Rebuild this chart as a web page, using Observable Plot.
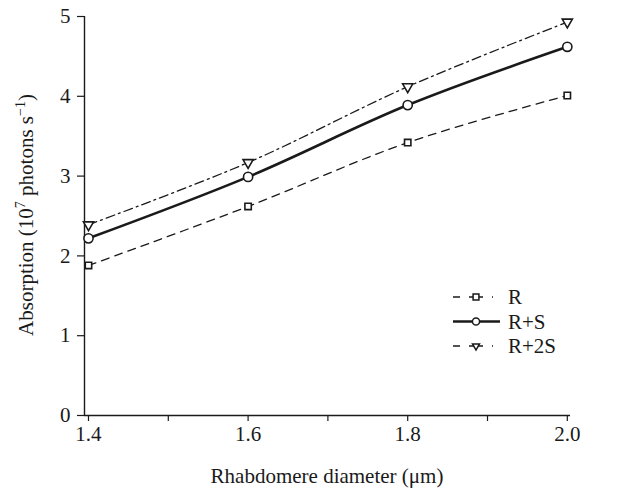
<!DOCTYPE html>
<html><head><meta charset="utf-8">
<script src="https://cdn.jsdelivr.net/npm/d3@7"></script>
<script src="https://cdn.jsdelivr.net/npm/@observablehq/plot@0.6"></script>
<style>body{margin:0;background:#fff;} #chart{position:relative;width:618px;height:490px;}</style>
</head><body><div id="chart"></div>
<script>
// Data
const diameters = [1.4, 1.6, 1.8, 2.0];
const valuesR   = [1.88, 2.62, 3.42, 4.01];
const valuesRS  = [2.22, 2.99, 3.89, 4.62];
const valuesR2S = [2.39, 3.17, 4.12, 4.93];
const seriesNames = ["R", "R+S", "R+2S"];
const xTicks = [1.4, 1.6, 1.8, 2.0];
const xMinorTicks = [1.5, 1.7, 1.9];
const yTicks = [0, 1, 2, 3, 4, 5];
const xDomain = [1.395, 2.004];
const yDomain = [0, 5];

const ink = "#1a1a1a";
const font = "'Liberation Serif', 'Times New Roman', serif";
const fs = 21;

const triangleDown = {
  draw(ctx, size) {
    const s = Math.sqrt(size) * 1.1;
    const h = s * Math.sqrt(3) / 2;
    ctx.moveTo(-s / 2, -h / 3);
    ctx.lineTo(s / 2, -h / 3);
    ctx.lineTo(0, 2 * h / 3);
    ctx.closePath();
  }
};

const styles = {
  "R":    {dash: "8,6", width: 1.3, symbol: "square", r: 3.6, legendDash: "7,9,14,9,8"},
  "R+S":  {dash: null,  width: 2.6, symbol: "circle", r: 4.6, legendDash: null},
  "R+2S": {dash: "9,4,2,4", width: 1.3, symbol: triangleDown, r: 5.2, legendDash: "7,9,14,9,8"}
};

const allVals = [valuesR, valuesRS, valuesR2S];
const data = [];
seriesNames.forEach((s, i) => diameters.forEach((d, j) => data.push({series: s, x: d, y: allVals[i][j]})));

const marks = [];
seriesNames.forEach(s => {
  const st = styles[s];
  const sub = data.filter(d => d.series === s);
  marks.push(Plot.line(sub, {x: "x", y: "y", stroke: ink, strokeWidth: st.width, strokeDasharray: st.dash, curve: "catmull-rom"}));
});
seriesNames.forEach(s => {
  const st = styles[s];
  const sub = data.filter(d => d.series === s);
  marks.push(Plot.dot(sub, {x: "x", y: "y", symbol: st.symbol, r: st.r, fill: "white", stroke: ink, strokeWidth: 1.6}));
});

const plot = Plot.plot({
  width: 618, height: 490,
  marginLeft: 84, marginRight: 48, marginTop: 16, marginBottom: 75,
  style: {fontFamily: font, fontSize: fs + "px", color: ink, background: "white", overflow: "visible"},
  x: {domain: xDomain, label: null},
  y: {domain: yDomain, label: null},
  marks: [
    Plot.axisX(xTicks, {tickSize: 6, tickPadding: 5, tickFormat: d => d.toFixed(1), fontSize: fs, label: null, stroke: ink, strokeWidth: 1.2}),
    Plot.axisX(xMinorTicks, {tickSize: 6, text: null, label: null, stroke: ink, strokeWidth: 1.2}),
    Plot.axisY(yTicks, {tickSize: 7, tickPadding: 7, tickFormat: d => String(d), fontSize: fs, label: null, stroke: ink, strokeWidth: 1.2}),
    Plot.ruleY([yDomain[0]], {stroke: ink, strokeWidth: 1.4}),
    Plot.ruleX([xDomain[0]], {stroke: ink, strokeWidth: 1.4}),
    ...marks
  ]
});
document.getElementById("chart").appendChild(plot);

const svg = d3.select(plot);
// x label
svg.append("text").attr("x", 327).attr("y", 483).attr("text-anchor", "middle")
  .style("font-family", font).style("font-size", fs + "px").attr("fill", ink)
  .text("Rhabdomere diameter (\u03bcm)");
// y label with superscripts
const yl = svg.append("text").attr("transform", "translate(33,215) rotate(-90)")
  .attr("text-anchor", "middle").style("font-family", font).style("font-size", fs + "px").attr("fill", ink);
yl.append("tspan").text("Absorption (10");
yl.append("tspan").style("font-size", "14px").attr("dy", -8).text("7");
yl.append("tspan").attr("dy", 8).text(" photons s");
yl.append("tspan").style("font-size", "14px").attr("dy", -8).text("\u22121");
yl.append("tspan").attr("dy", 8).text(")");

// legend
const lg = svg.append("g").attr("transform", "translate(453,297)");
seriesNames.forEach((s, i) => {
  const st = styles[s];
  const g = lg.append("g").attr("transform", `translate(0,${i * 24.5})`);
  g.append("line").attr("x1", 0).attr("x2", s === "R+S" ? 47 : 40).attr("y1", 0).attr("y2", 0)
    .attr("stroke", ink).attr("stroke-width", st.width)
    .attr("stroke-dasharray", st.legendDash);
  const sym = typeof st.symbol === "string" ? (st.symbol === "square" ? d3.symbolSquare : d3.symbolCircle) : st.symbol;
  g.append("path").attr("transform", "translate(23,0)")
    .attr("d", d3.symbol(sym, s === "R+S" ? 40 : (s === "R" ? 34 : 40))())
    .attr("fill", "white").attr("stroke", ink).attr("stroke-width", 1.5);
  g.append("text").attr("x", 55).attr("y", 7).attr("text-anchor", "start")
    .style("font-family", font).style("font-size", fs + "px").attr("fill", ink).text(s);
});
</script></body></html>
